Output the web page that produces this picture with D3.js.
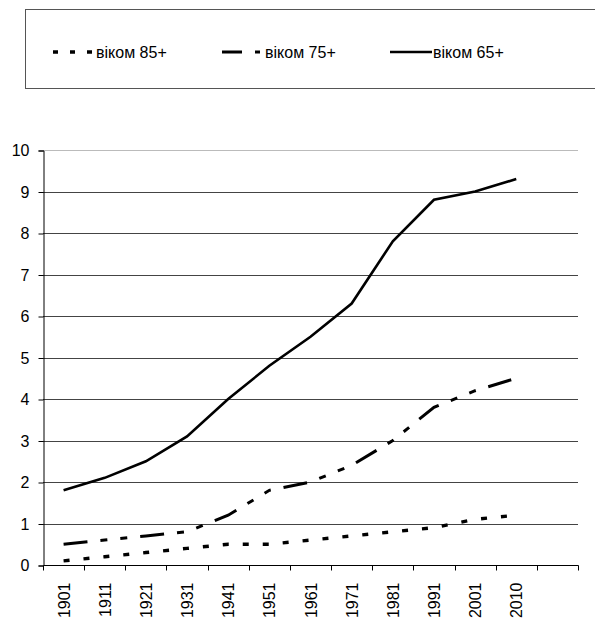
<!DOCTYPE html>
<html>
<head>
<meta charset="utf-8">
<script src="https://cdn.jsdelivr.net/npm/d3@7"></script>
<style>
  body { margin: 0; background: #fff; }
  svg { display: block; font-family: "Liberation Sans", Arial, sans-serif; }
</style>
</head>
<body>
<div id="chart"></div>
<script>
// categories (the last slot is empty in the original)
const years = ["1901", "1911", "1921", "1931", "1941", "1951", "1961", "1971", "1981", "1991", "2001", "2010", ""];
const age65 = [1.8, 2.1, 2.5, 3.1, 4.0, 4.8, 5.5, 6.3, 7.8, 8.8, 9.0, 9.3];
const age75 = [0.5, 0.6, 0.7, 0.8, 1.2, 1.8, 2.0, 2.4, 3.0, 3.8, 4.2, 4.5];
const age85 = [0.1, 0.2, 0.3, 0.4, 0.5, 0.5, 0.6, 0.7, 0.8, 0.9, 1.1, 1.2];
const yTicks = [0, 1, 2, 3, 4, 5, 6, 7, 8, 9, 10];

const series = [
  { name: "віком 85+", values: age85, dash: "6,14", legDash: "5,12", width: 3.4 },
  { name: "віком 75+", values: age75, dash: "24,13,7,13,7,13", legDash: "20,13,5,13", width: 3 },
  { name: "віком 65+", values: age65, dash: null, legDash: null, width: 2.6 }
];

const W = 595, H = 619;
const svg = d3.select("#chart").append("svg")
  .attr("width", W).attr("height", H);

/* ── legend ─────────────────────────────── */
svg.append("rect")
  .attr("x", 25.5).attr("y", 9.5)
  .attr("width", 600).attr("height", 79)
  .attr("fill", "none").attr("stroke", "#555").attr("stroke-width", 1);

const legX = [53, 222, 390];
series.forEach((s, i) => {
  const lg = svg.append("g").attr("transform", `translate(${legX[i]},52)`);
  lg.append("line")
    .attr("x1", 0).attr("x2", 42).attr("y1", 0).attr("y2", 0)
    .attr("stroke", "#000").attr("stroke-width", s.width)
    .attr("stroke-dasharray", s.legDash);
  lg.append("text")
    .attr("x", 43).attr("y", 6)
    .style("font-size", "16px")
    .text(s.name);
});

/* ── scales ─────────────────────────────── */
const margin = { left: 43, right: 17, top: 150, bottom: 54 };
const x = d3.scaleBand().domain(d3.range(years.length))
  .range([margin.left, W - margin.right]);
const y = d3.scaleLinear().domain([0, 10])
  .range([H - margin.bottom, margin.top]);

// gridlines
svg.append("g").selectAll("line")
  .data(yTicks.filter(d => d > 0))
  .join("line")
  .attr("x1", margin.left).attr("x2", W - margin.right)
  .attr("y1", d => Math.round(y(d)) + 0.5).attr("y2", d => Math.round(y(d)) + 0.5)
  .attr("stroke", d => d === 10 ? "#bbb" : "#444");

// y axis
const yAxis = svg.append("g")
  .attr("transform", `translate(${margin.left + 0.5},0.5)`)
  .call(d3.axisLeft(y).tickValues(yTicks).tickSize(5).tickPadding(9).tickFormat(d3.format("d")));
yAxis.selectAll("text").style("font-size", "16px").attr("fill", "#000")
  .attr("font-family", "Liberation Sans, Arial, sans-serif");
yAxis.selectAll("line, path").attr("stroke", "#000");

// x axis
const xAxisG = svg.append("g").attr("transform", `translate(0.5,${Math.round(y(0)) + 0.5})`);
xAxisG.append("line")
  .attr("x1", margin.left).attr("x2", W - margin.right)
  .attr("stroke", "#000");
xAxisG.selectAll(".tk")
  .data(d3.range(years.length + 1))
  .join("line")
  .attr("class", "tk")
  .attr("x1", d => Math.round(margin.left + d * x.step()))
  .attr("x2", d => Math.round(margin.left + d * x.step()))
  .attr("y1", 0).attr("y2", 5)
  .attr("stroke", "#000");
xAxisG.selectAll(".lbl")
  .data(years)
  .join("text")
  .attr("class", "lbl")
  .attr("transform", (d, i) => `translate(${x(i) + x.bandwidth() / 2 + 5.5},17) rotate(-90)`)
  .attr("text-anchor", "end")
  .style("font-size", "16px")
  .text(d => d);

/* ── lines ─────────────────────────────── */
const line = d3.line()
  .x((d, i) => x(i) + x.bandwidth() / 2)
  .y(d => y(d));

svg.append("g").selectAll("path")
  .data(series)
  .join("path")
  .attr("d", d => line(d.values))
  .attr("fill", "none")
  .attr("stroke", "#000")
  .attr("stroke-width", d => d.width)
  .attr("stroke-dasharray", d => d.dash);
</script>
</body>
</html>
